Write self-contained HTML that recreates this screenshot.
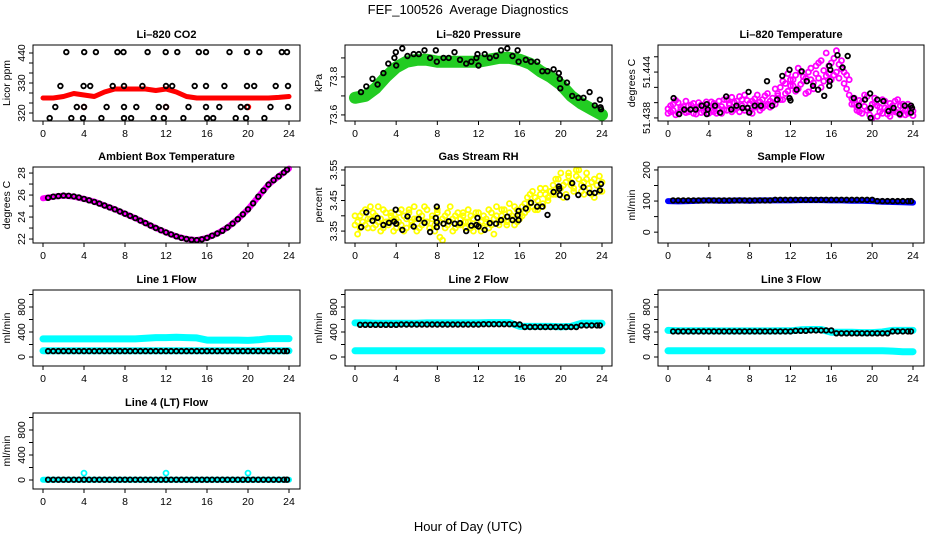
<!DOCTYPE html>
<html><head><meta charset="utf-8"><style>
html,body{margin:0;padding:0;background:#fff;}
svg{display:block;font-family:"Liberation Sans",sans-serif;}
</style></head><body>
<svg id="chart" width="936" height="540" viewBox="0 0 936 540">
<text x="468" y="14" text-anchor="middle" font-size="13">FEF_100526&#160; Average Diagnostics</text>
<text x="468" y="531" text-anchor="middle" font-size="13">Hour of Day (UTC)</text>
</svg>
<script>
// ---------- data ----------
const xTicks = [0,4,8,12,16,20,24];
const hours = [0,1,2,3,4,5,6,7,8,9,10,11,12,13,14,15,16,17,18,19,20,21,22,23,24];
// CO2
const co2Red = [325,325,325.5,326.5,326,325.5,327,328,328,328,328,327.5,328,327,325.5,325,325,325,325,325,325,325,325,325.2,325.5];
const co2BlackT = [2.27,4.02,5.16,7.26,7.85,10.2,11.97,13.1,15.2,15.9,18.2,19.9,21.1,23.3,23.8, 1.7,3.96,4.6,6.8,7.9,9.7,12,12.6,14.8,15.9,17.7,19.9,20.6,22.7,23.9, 1.2,3.3,4,6.2,7.9,9.1,11.3,12,14.2,15.9,17.2,19.3,19.9,22.2,23.9, 0.65,2.76,3.9,5.7,7.9,8.6,10.8,11.8,13.7,16,16.6,18.8,19.8,21.6];
const co2BlackV = [340.3,340.3,340.3,340.3,340.3,340.3,340.3,340.3,340.3,340.3,340.3,340.3,340.3,340.3,340.3, 329,329,329,329,329,329,329,329,329,329,329,329,329,329,329, 322,322,322,322,322,322,322,322,322,322,322,322,322,322,322, 318.3,318.3,318.3,318.3,318.3,318.3,318.3,318.3,318.3,318.3,318.3,318.3,318.3,318.3];
const co2RedDotT = [4,12,20];
const co2RedDotV = [322,322,322];
const co2Ticks = [320,323.33,326.67,330,333.33,336.67,340];
const co2TickLabels = ["320","","","330","","","440"];
// Pressure
const presGreen = [73.69,73.70,73.74,73.80,73.85,73.88,73.89,73.89,73.88,73.88,73.88,73.88,73.88,73.89,73.90,73.90,73.89,73.87,73.83,73.80,73.76,73.70,73.66,73.63,73.60];
const presBlackT = [0.58,1.1,1.7,2.2,2.76,3.24,3.83,3.96,4,4.6,5.1,5.7,6.2,6.75,7.3,7.85,7.95,8.6,9.1,9.67,10.2,10.8,11.3,11.8,11.9,12,12.6,13.1,13.7,14.2,14.8,15.3,15.8,15.9,16.6,17.1,17.7,18.2,18.7,19.3,19.8,19.9,19.95,20.6,21.1,21.7,22.2,22.8,23.3,23.8,23.85,23.9];
const presBlackV = [73.72,73.75,73.79,73.76,73.82,73.87,73.90,73.93,73.86,73.95,73.91,73.92,73.92,73.94,73.90,73.94,73.88,73.90,73.90,73.93,73.89,73.87,73.88,73.90,73.92,73.86,73.92,73.90,73.91,73.94,73.95,73.91,73.94,73.88,73.89,73.88,73.88,73.83,73.83,73.84,73.82,73.79,73.74,73.77,73.70,73.69,73.69,73.72,73.65,73.68,73.64,73.63];
const presTicks = [73.6,73.7,73.8,73.9];
const presTickLabels = ["73.6","","73.8",""];
// Temperature
const tempMagA = [51.4392,51.4388,51.4398,51.4403,51.4386,51.4394,51.4390,51.4387,51.4396,51.4392,51.4399,51.4385,51.4393,51.4397,51.4389,51.4401,51.4394,
51.4390,51.4399,51.4386,51.4402,51.4395,51.4391,51.4404,51.4397,51.4388,51.4400,51.4393,51.4408,51.4396,51.4390,51.4403,51.4399,51.4386,51.4405,51.4397,51.4401,51.4393,51.4409,51.4398,51.4402,
51.4406,51.4398,51.4412,51.4420,51.4404,51.4425,51.4415,51.4430,
51.4422,51.4436,51.4418,51.4440,51.4428,51.4432,51.4414,51.4445,51.4426,51.4438,51.4452,51.4420,51.4442,51.4435,51.4448,51.4430,51.4458,51.4440,51.4450,51.4444,
51.4425,51.4436,51.4410,51.4405,
51.4398,51.4390,51.4403,51.4386,51.4395,51.4408,51.4392,51.4380,51.4400,51.4396,51.4388,51.4404,51.4393,51.4385,51.4399,51.4390,51.4402,51.4387,51.4396,51.4392,51.4384,51.4398,51.4391,51.4389];
const tempMagB = [51.4386,51.4396,51.4390,51.4384,51.4400,51.4391,51.4395,51.4402,51.4388,51.4397,51.4386,51.4394,51.4400,51.4387,51.4396,51.4391,51.4386,
51.4401,51.4388,51.4396,51.4392,51.4386,51.4404,51.4390,51.4399,51.4407,51.4391,51.4402,51.4388,51.4404,51.4410,51.4393,51.4389,51.4402,51.4394,51.4410,51.4390,51.4404,51.4396,51.4412,51.4394,
51.4400,51.4418,51.4409,51.4404,51.4428,51.4412,51.4438,51.4422,
51.4430,51.4415,51.4445,51.4424,51.4434,51.4412,51.4440,51.4430,51.4418,51.4448,51.4432,51.4455,51.4428,51.4465,51.4438,51.4452,51.4436,51.4468,51.4432,51.4455,
51.4440,51.4418,51.4430,51.4398,
51.4406,51.4394,51.4388,51.4401,51.4410,51.4390,51.4384,51.4398,51.4406,51.4382,51.4394,51.4386,51.4402,51.4391,51.4382,51.4396,51.4388,51.4404,51.4384,51.4398,51.4390,51.4386,51.4395,51.4383];
const tempBlackT = [0.55,1.1,1.6,2.2,2.7,3.3,3.8,3.8,3.9,4.6,5.1,5.7,6.2,6.7,7.3,7.8,7.9,7.95,8.5,9.1,9.7,10.2,10.7,11.2,11.9,11.9,12,12.6,13.1,13.6,14.2,14.7,15.3,15.8,15.9,15.85,15.8,16.6,17.1,17.6,18.2,18.7,19.3,19.8,19.85,19.85,20.5,21.1,21.6,22.1,22.7,23.2,23.8,23.8,23.9];
const tempBlackV = [51.4406,51.4385,51.4391,51.4391,51.4391,51.4396,51.4398,51.4385,51.4391,51.4396,51.4387,51.4408,51.4391,51.4396,51.4393,51.4393,51.4414,51.4387,51.4396,51.4396,51.4428,51.4396,51.4404,51.4435,51.4443,51.4406,51.4403,51.4417,51.4441,51.4428,51.4422,51.4417,51.4409,51.4448,51.4443,51.4428,51.4422,51.4462,51.4446,51.4461,51.4406,51.4396,51.4404,51.4412,51.4393,51.4380,51.4404,51.4402,51.4389,51.4393,51.4385,51.4396,51.4396,51.4387,51.4393];
const tempTicks = [51.438,51.440,51.442,51.444,51.446];
const tempTickLabels = ["51.438","","","51.444",""];
// Ambient
const ambMag = [25.7,25.85,25.95,25.85,25.65,25.4,25.05,24.7,24.3,23.9,23.45,23.0,22.6,22.25,22.0,21.9,22.1,22.5,23.05,23.8,24.7,25.85,26.95,27.7,28.4];
const halfT = [0.5,1,1.5,2,2.5,3,3.5,4,4.5,5,5.5,6,6.5,7,7.5,8,8.5,9,9.5,10,10.5,11,11.5,12,12.5,13,13.5,14,14.5,15,15.5,16,16.5,17,17.5,18,18.5,19,19.5,20,20.5,21,21.5,22,22.5,23,23.5,23.8];
const ambBlack = [25.75,25.85,25.9,25.95,25.93,25.88,25.78,25.65,25.52,25.38,25.22,25.05,24.88,24.7,24.5,24.3,24.1,23.9,23.68,23.45,23.22,23.0,22.8,22.6,22.42,22.25,22.1,22.0,21.93,21.9,21.98,22.1,22.3,22.5,22.75,23.05,23.4,23.8,24.25,24.7,25.25,25.85,26.4,26.95,27.35,27.7,28.05,28.3];
const ambTicks = [22,23,24,25,26,27,28];
const ambTickLabels = ["22","","24","","26","","28"];
// RH
const rhYelA = [3.37,3.34,3.40,3.38,3.42,3.36,3.39,3.41,3.37,3.43,3.39,3.36,3.41,3.38,3.40,3.35,3.39,
3.41,3.37,3.40,3.36,3.42,3.38,3.39,3.35,3.41,3.37,3.43,3.38,3.36,3.40,3.37,3.42,3.33,3.39,3.36,3.41,3.38,3.35,3.40,3.37,
3.39,3.41,3.36,3.38,3.40,3.35,3.37,3.41,3.38,3.36,3.39,3.42,3.37,3.34,3.40,3.38,3.42,3.39,3.37,3.41,3.39,3.43,3.38,3.40,
3.40,3.44,3.42,3.47,3.43,3.46,3.42,3.47,3.44,3.49,3.46,3.48,
3.50,3.47,3.52,3.49,3.46,3.51,3.54,3.50,3.48,3.53,3.55,3.50,3.47,3.52,3.49,3.51,3.46,3.50,3.53,3.48];
const rhYelB = [3.40,3.38,3.36,3.41,3.37,3.39,3.43,3.36,3.40,3.38,3.35,3.42,3.38,3.37,3.41,3.39,3.36,
3.38,3.42,3.35,3.39,3.41,3.37,3.43,3.39,3.36,3.40,3.38,3.42,3.36,3.39,3.35,3.41,3.38,3.32,3.40,3.37,3.43,3.39,3.36,3.41,
3.37,3.40,3.38,3.42,3.36,3.39,3.41,3.37,3.35,3.40,3.38,3.36,3.41,3.39,3.43,3.37,3.40,3.42,3.38,3.44,3.40,3.37,3.42,3.39,
3.43,3.41,3.46,3.44,3.48,3.42,3.45,3.49,3.43,3.47,3.45,3.48,
3.47,3.52,3.49,3.54,3.50,3.47,3.53,3.51,3.49,3.55,3.52,3.48,3.51,3.54,3.49,3.47,3.52,3.50,3.48,3.51];
const rhBlackT = [0.6,1.1,1.7,2.2,2.76,3.3,3.8,4,3.95,4.6,5.1,5.7,6.2,6.75,7.3,7.85,7.95,7.95,7.95,8.6,9.1,9.7,10.2,10.8,11.3,11.8,11.9,12,12.6,13.1,13.7,14.2,14.8,15.3,15.8,15.9,15.9,16.6,17.1,17.7,18.2,18.7,19.3,19.8,19.85,19.9,20.6,21.1,21.7,22.2,22.8,23.3,23.8,23.9];
const rhBlackV = [3.363,3.411,3.384,3.393,3.370,3.377,3.381,3.374,3.42,3.354,3.398,3.365,3.39,3.377,3.347,3.393,3.43,3.379,3.363,3.374,3.382,3.374,3.376,3.35,3.368,3.37,3.393,3.365,3.354,3.376,3.374,3.386,3.397,3.386,3.402,3.416,3.386,3.424,3.443,3.43,3.43,3.403,3.478,3.496,3.488,3.468,3.461,3.507,3.468,3.494,3.475,3.475,3.483,3.504];
const rhTicks = [3.35,3.40,3.45,3.50,3.55];
const rhTickLabels = ["3.35","","3.45","","3.55"];
// Sample flow
const sampleBlue = [100,99,100,101,102,101,101,102,101,102,102,102,102,103,103,103,102,102,101,101,100,98,97,96,95];
const sampleBlack = [102,102,102,102,102,102,102,102,102,102,102,102,102,102,102,102,102,102,102,102,104,104,104,104,104,104,104,104,104,104,104,104,104,104,104,104,104,104,104,104,100,100,100,100,100,100,100,100];
const sampleTicks = [0,50,100,150,200];
const sampleTickLabels = ["0","","100","","200"];
// Line flows
const flowTicks = [0,200,400,600,800,1000];
const flowTickLabels = ["0","","400","","800",""];
const l1High = [290,290,290,290,290,290,290,290,290,290,300,310,310,315,310,305,270,270,270,270,265,275,295,295,295];
const l1Low = [100,100,100,100,100,100,100,100,100,100,100,100,100,100,100,100,100,100,100,100,100,100,100,100,100];
const l1Black = [95,95,95,95,95,95,95,95,95,95,95,95,95,95,95,95,95,95,95,95,95,95,95,95,95,95,95,95,95,95,95,95,95,95,95,95,95,95,95,95,95,95,95,95,95,95,95,95];
const l2High = [545,545,540,540,540,540,540,545,545,545,545,545,545,550,550,550,490,490,490,490,485,490,540,540,540];
const l2Low = [100,100,100,100,100,100,100,100,100,100,100,100,100,100,100,100,100,100,100,100,100,100,100,100,100];
const l2Black = [515,515,515,515,515,515,515,515,520,520,520,520,520,520,520,520,520,520,520,520,520,520,520,520,525,525,525,525,525,525,525,520,480,480,480,480,480,480,480,480,480,480,480,505,505,505,505,505];
const l3High = [425,420,420,420,420,418,418,418,418,418,418,420,420,435,440,440,395,395,395,390,390,400,425,425,425];
const l3Low = [100,100,100,100,100,100,100,100,100,100,100,100,100,100,100,100,100,100,100,100,100,100,95,85,85];
const l3Black = [410,410,410,410,410,410,410,410,410,410,410,410,410,410,410,410,410,410,410,410,410,410,410,410,420,420,420,425,425,425,425,425,380,380,380,380,380,380,380,380,380,380,380,410,410,410,410,410];
const l4Cyan = [5,5,5,5,5,5,5,5,5,5,5,5,5,5,5,5,5,5,5,5,5,5,5,5,5];
const l4SpikeT = [4,12,20];
const l4SpikeV = [110,110,110];
const l4Black = [5,5,5,5,5,5,5,5,5,5,5,5,5,5,5,5,5,5,5,5,5,5,5,5,5,5,5,5,5,5,5,5,5,5,5,5,5,5,5,5,5,5,5,5,5,5,5,5];

// ---------- drawing ----------
const NS = "http://www.w3.org/2000/svg";
const svg = document.getElementById("chart");
function mk(tag, attrs, parent){const e=document.createElementNS(NS,tag);for(const k in attrs)e.setAttribute(k,attrs[k]);(parent||svg).appendChild(e);return e;}
const cols=[{L:33,R:300,x0:43,x24:289},{L:345,R:612,x0:355,x24:602},{L:658,R:924,x0:668,x24:913}];
const rowTops=[45,167,290,413];
const H=76;

function panel(name,col,row,title,ytitle,ymin,ymax,ticks,labels){
  const c=cols[col], top=rowTops[row], bot=top+H;
  const g=mk("g",{});
  
  
  const xs=t=>c.x0+(c.x24-c.x0)*t/24;
  const ys=v=>bot-(v-ymin)/(ymax-ymin)*H;
  const t=mk("text",{x:(c.L+c.R)/2,y:top-7,"text-anchor":"middle","font-size":"11","font-weight":"bold"},g);
  t.textContent=title;
  
  
  const plot=mk("g",{},g);
  
  
  const box=mk("rect",{x:c.L,y:top,width:c.R-c.L,height:H,fill:"none",stroke:"#000","stroke-width":"1"},g);
  
  
  const xa=mk("g",{},g);
  
  
  mk("line",{x1:xs(xTicks[0]),x2:xs(xTicks[xTicks.length-1]),y1:bot,y2:bot,stroke:"#000"},xa);
  xTicks.forEach(v=>{
    mk("line",{x1:xs(v),x2:xs(v),y1:bot,y2:bot+4,stroke:"#000"},xa);
    const l=mk("text",{x:xs(v),y:bot+16,"text-anchor":"middle","font-size":"10.5"},xa);
    l.textContent=v;
    
    
  });
  const ya=mk("g",{},g);
  
  
  mk("line",{x1:c.L,x2:c.L,y1:ys(ticks[0]),y2:ys(ticks[ticks.length-1]),stroke:"#000"},ya);
  ticks.forEach((v,i)=>{
    mk("line",{x1:c.L-4,x2:c.L,y1:ys(v),y2:ys(v),stroke:"#000"},ya);
    if(labels[i]){
      const l=mk("text",{x:c.L-8,y:ys(v),"text-anchor":"middle","font-size":"10.5",transform:`rotate(-90 ${c.L-8} ${ys(v)})`},ya);
      l.textContent=labels[i];
      
      
    }
  });
  const yt=mk("text",{x:c.L-23,y:top+H/2,"text-anchor":"middle","font-size":"10.5",transform:`rotate(-90 ${c.L-23} ${top+H/2})`},g);
  yt.textContent=ytitle;
  
  
  return {xs,ys,plot};
}
function band(p,ts,vs,color,w,name){
  const pts=ts.map((t,i)=>p.xs(t).toFixed(1)+","+p.ys(vs[i]).toFixed(1)).join(" ");
  const e=mk("polyline",{points:pts,fill:"none",stroke:color,"stroke-width":w,"stroke-linejoin":"round","stroke-linecap":"round"},p.plot);
  
  
}
function pts(p,ts,vs,color,name,r,sw){
  const g=mk("g",{},p.plot);
  
  
  ts.forEach((t,i)=>{
    if(vs[i]===undefined)return;
    const e=mk("circle",{cx:p.xs(t).toFixed(1),cy:p.ys(vs[i]).toFixed(1),r:r||2.3,fill:"none",stroke:color,"stroke-width":sw||1.8},g);
    
    
  });
}
const qT = tempMagA.map((_,i)=>i*0.25);
const qT2 = rhYelA.map((_,i)=>i*0.25);

let p;
p=panel("co2",0,0,"Li–820 CO2","Licor ppm",317.33,342.67,co2Ticks,co2TickLabels);
band(p,hours,co2Red,"#ff0000",5,"co2-red-series");
pts(p,co2RedDotT,co2RedDotV,"#ff0000","co2-red-points");
pts(p,co2BlackT,co2BlackV,"#000","co2-black-points");

p=panel("pressure",1,0,"Li–820 Pressure","kPa",73.568,73.968,presTicks,presTickLabels);
band(p,hours,presGreen,"#22cc22",12,"pressure-green-series");
pts(p,presBlackT,presBlackV,"#000","pressure-black-points");

p=panel("temperature",2,0,"Li–820 Temperature","degrees C",51.4376,51.44754,tempTicks,tempTickLabels);
pts(p,qT,tempMagA,"#ff00ff","temperature-magenta-a",2.5,1.8);
pts(p,qT,tempMagB,"#ff00ff","temperature-magenta-b",2.5,1.8);
pts(p,tempBlackT,tempBlackV,"#000","temperature-black-points");

p=panel("ambient",0,1,"Ambient Box Temperature","degrees C",21.64,28.55,ambTicks,ambTickLabels);
band(p,hours,ambMag,"#ff00ff",6,"ambient-magenta-series");
pts(p,halfT,ambBlack,"#000","ambient-black-points");

p=panel("rh",1,1,"Gas Stream RH","percent",3.311,3.5597,rhTicks,rhTickLabels);
pts(p,qT2,rhYelA,"#ffff00","rh-yellow-a",2.5,1.8);
pts(p,qT2,rhYelB,"#ffff00","rh-yellow-b",2.5,1.8);
pts(p,rhBlackT,rhBlackV,"#000","rh-black-points");

p=panel("sample-flow",2,1,"Sample Flow","ml/min",-34.9,209.5,sampleTicks,sampleTickLabels);
band(p,hours,sampleBlue,"#0000ff",6,"sample-blue-series");
pts(p,halfT,sampleBlack,"#000","sample-black-points");

p=panel("line1",0,2,"Line 1 Flow","ml/min",-144,1072,flowTicks,flowTickLabels);
band(p,hours,l1High,"#00ffff",7,"line1-cyan-high");
band(p,hours,l1Low,"#00ffff",7,"line1-cyan-low");
pts(p,halfT,l1Black,"#000","line1-black-points");

p=panel("line2",1,2,"Line 2 Flow","ml/min",-144,1072,flowTicks,flowTickLabels);
band(p,hours,l2High,"#00ffff",7,"line2-cyan-high");
band(p,hours,l2Low,"#00ffff",7,"line2-cyan-low");
pts(p,halfT,l2Black,"#000","line2-black-points");

p=panel("line3",2,2,"Line 3 Flow","ml/min",-144,1072,flowTicks,flowTickLabels);
band(p,hours,l3High,"#00ffff",7,"line3-cyan-high");
band(p,hours,l3Low,"#00ffff",7,"line3-cyan-low");
pts(p,halfT,l3Black,"#000","line3-black-points");

p=panel("line4",0,3,"Line 4 (LT) Flow","ml/min",-144,1072,flowTicks,flowTickLabels);
band(p,hours,l4Cyan,"#00ffff",6,"line4-cyan-series");
pts(p,l4SpikeT,l4SpikeV,"#00ffff","line4-cyan-spikes",2.5,1.8);
pts(p,halfT,l4Black,"#000","line4-black-points");
</script>
</body></html>
